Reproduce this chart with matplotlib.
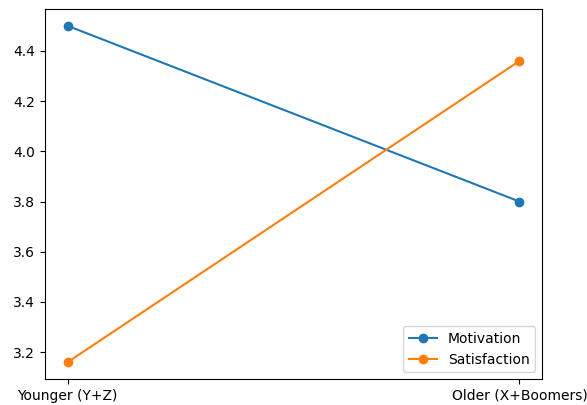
import matplotlib
matplotlib.use("Agg")
import matplotlib.pyplot as plt

groups = ["Younger (Y+Z)", "Older (X+Boomers)"]
motivation = [4.50, 3.80]
satisfaction = [3.16, 4.36]

fig = plt.figure(figsize=(5.87, 4.05), dpi=100)
ax = fig.add_axes([45 / 587, 26 / 405, 497 / 587, 370 / 405])

ax.plot(groups, motivation, marker="o", label="Motivation")
ax.plot(groups, satisfaction, marker="o", label="Satisfaction")
ax.legend(loc="lower right")

fig.savefig("out.png", dpi=100)
